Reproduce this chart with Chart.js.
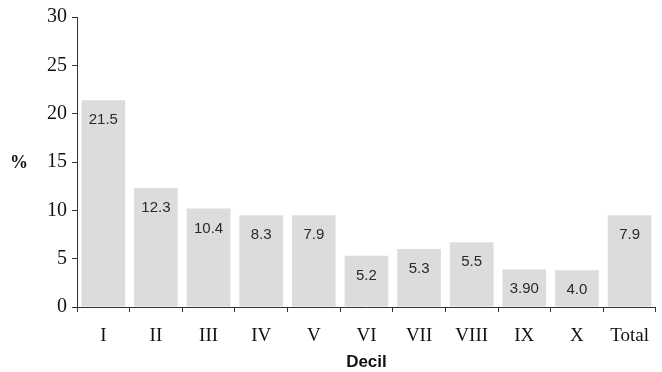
<!DOCTYPE html>
<html>
<head>
<meta charset="utf-8">
<script src="https://cdn.jsdelivr.net/npm/chart.js@4"></script>
<style>
  html, body { margin: 0; padding: 0; background: #fff; }
  #wrap { width: 662px; height: 372px; }
</style>
</head>
<body>
<div id="wrap"><canvas id="decilChart" width="662" height="372"></canvas></div>
<script>
// Data
const categories = ['I', 'II', 'III', 'IV', 'V', 'VI', 'VII', 'VIII', 'IX', 'X', 'Total'];
const barValues = [21.4, 12.3, 10.2, 9.5, 9.5, 5.3, 6.0, 6.7, 3.9, 3.8, 9.5];
const barLabels = ['21.5', '12.3', '10.4', '8.3', '7.9', '5.2', '5.3', '5.5', '3.90', '4.0', '7.9'];
const yTicks = [0, 5, 10, 15, 20, 25, 30];

// Value labels inside the top of each bar + axis titles
const annotations = {
    id: 'annotations',
    afterDatasetsDraw(chart) {
        const ctx = chart.ctx;
        const meta = chart.getDatasetMeta(0);
        ctx.save();
        ctx.fillStyle = '#2a2a2a';
        ctx.font = '15px "Liberation Sans", Arial, sans-serif';
        ctx.textAlign = 'center';
        ctx.textBaseline = 'middle';
        meta.data.forEach((bar, i) => {
            ctx.fillText(barLabels[i], bar.x, bar.y + 20);
        });

        ctx.fillStyle = '#111';
        ctx.font = 'bold 18px "Liberation Serif", serif';
        ctx.fillText('%', 19, 163);

        ctx.font = 'bold 17px "Liberation Sans", Arial, sans-serif';
        const area = chart.chartArea;
        ctx.fillText('Decil', (area.left + area.right) / 2, 362);
        ctx.restore();
    }
};

const ctx = document.getElementById('decilChart').getContext('2d');
new Chart(ctx, {
    type: 'bar',
    data: {
        labels: categories,
        datasets: [{
            data: barValues,
            backgroundColor: '#dcdcde',
            borderWidth: 0,
            barPercentage: 0.83,
            categoryPercentage: 1.0
        }]
    },
    options: {
        responsive: false,
        animation: false,
        layout: { padding: { top: 16, right: 1, left: 0, bottom: 0 } },
        plugins: {
            legend: { display: false },
            tooltip: { enabled: false }
        },
        scales: {
            x: {
                offset: true,
                grid: {
                    offset: true,
                    drawOnChartArea: false,
                    drawTicks: true,
                    tickLength: 5,
                    tickColor: '#333'
                },
                border: { display: true, color: '#333', width: 1 },
                ticks: {
                    color: '#111',
                    font: { family: '"Liberation Serif", serif', size: 19 },
                    padding: 13,
                    maxRotation: 0,
                    autoSkip: false
                },
                afterFit: s => { s.height = 65; }
            },
            y: {
                min: 0,
                max: 30,
                afterBuildTicks: s => { s.ticks = yTicks.map(v => ({ value: v })); },
                grid: {
                    drawOnChartArea: false,
                    drawTicks: true,
                    tickLength: 5,
                    tickColor: '#333'
                },
                border: { display: true, color: '#333', width: 1 },
                ticks: {
                    color: '#111',
                    font: { family: '"Liberation Serif", serif', size: 20 },
                    padding: 5
                },
                afterFit: s => { s.width = 77; }
            }
        }
    },
    plugins: [annotations]
});
</script>
</body>
</html>
